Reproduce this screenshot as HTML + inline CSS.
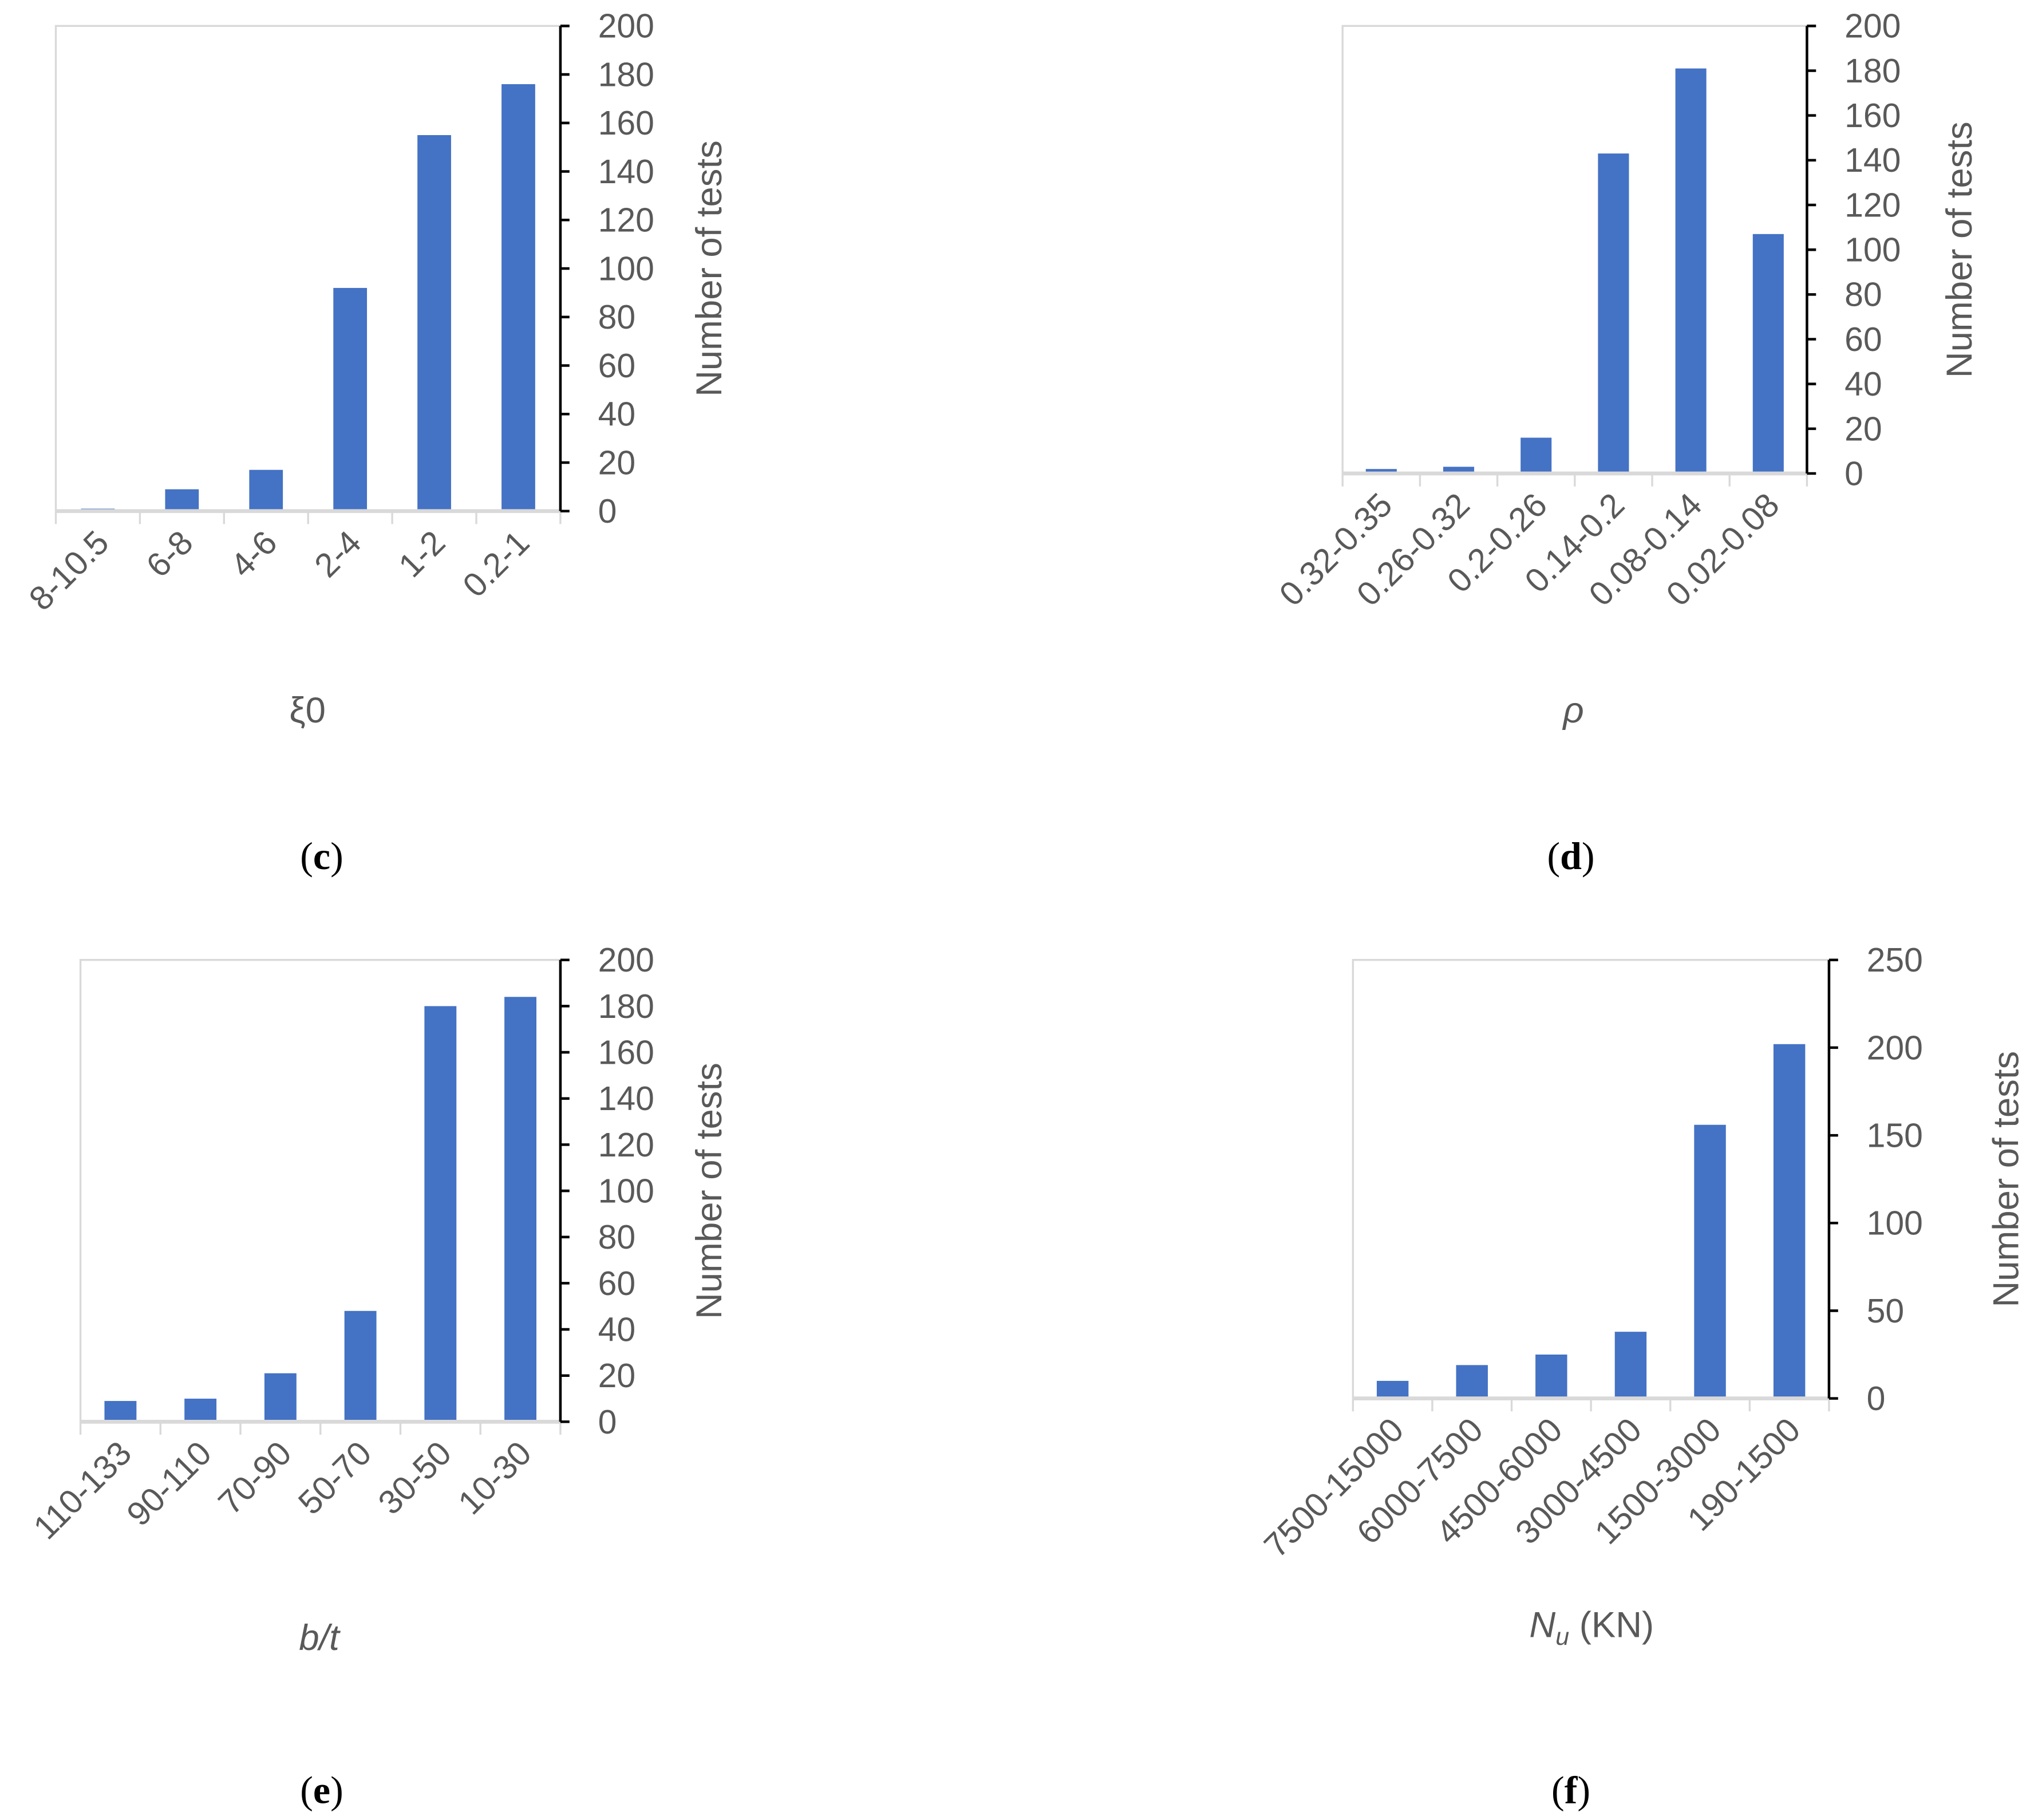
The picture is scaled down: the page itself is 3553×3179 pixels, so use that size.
<!DOCTYPE html>
<html><head><meta charset="utf-8"><style>
html,body{margin:0;padding:0;background:#fff}
svg{display:block}
text{font-family:"Liberation Sans","DejaVu Sans",sans-serif;fill:#595959}
</style></head><body>
<svg id="fig" width="3553" height="3179" viewBox="0 0 1568 1403" xmlns="http://www.w3.org/2000/svg"></svg>
<script>
const catsC=["8-10.5","6-8","4-6","2-4","1-2","0.2-1"];
const valsC=[1,9,17,92,155,176];
const ticksC=[0,20,40,60,80,100,120,140,160,180,200];
const catsD=["0.32-0.35","0.26-0.32","0.2-0.26","0.14-0.2","0.08-0.14","0.02-0.08"];
const valsD=[2,3,16,143,181,107];
const ticksD=[0,20,40,60,80,100,120,140,160,180,200];
const catsE=["110-133","90-110","70-90","50-70","30-50","10-30"];
const valsE=[9,10,21,48,180,184];
const ticksE=[0,20,40,60,80,100,120,140,160,180,200];
const catsF=["7500-15000","6000-7500","4500-6000","3000-4500","1500-3000","190-1500"];
const valsF=[10,19,25,38,156,202];
const ticksF=[0,50,100,150,200,250];

const NS="http://www.w3.org/2000/svg";
const svg=document.getElementById('fig');
function mk(tag,attrs,parent){const e=document.createElementNS(NS,tag);for(const k in attrs)e.setAttribute(k,attrs[k]);(parent||svg).appendChild(e);return e;}

function chart(id,cats,vals,ticks,L,T,R,B,xlabel,letter,ytx){
  const g=mk('g',{});
  
  
  const maxT=ticks[ticks.length-1];
  const y=v=>B-(v/maxT)*(B-T);
  const bw=(R-L)/cats.length;
  const x=i=>L+bw*(i+0.5);
  const frame=mk('path',{d:`M${L},${B} L${L},${T} L${R},${T}`,fill:'none',stroke:'#d9d9d9','stroke-width':1.5},g);
  
  
  vals.forEach((v,i)=>{
    const r=mk('rect',{x:x(i)-bw*0.2,y:y(v),width:bw*0.4,height:B-y(v),fill:'#4472C4'},g);
    
    
  });
  const xa=mk('line',{x1:L,y1:B,x2:R,y2:B,stroke:'#d9d9d9','stroke-width':3},g);
  
  
  for(let i=0;i<=cats.length;i++){
    const t=mk('line',{x1:L+bw*i,y1:B,x2:L+bw*i,y2:B+10,stroke:'#d9d9d9','stroke-width':1.5},g);
    
    
  }
  const ya=mk('line',{x1:R,y1:T,x2:R,y2:B,stroke:'#000','stroke-width':2},g);
  
  
  ticks.forEach(t=>{
    const tm=mk('line',{x1:R,y1:y(t),x2:R+7,y2:y(t),stroke:'#000','stroke-width':2},g);
    
    
    const tl=mk('text',{x:R+29,y:y(t)+9,'font-size':26},g);
    tl.textContent=t;
    
    
  });
  cats.forEach((c,i)=>{
    const cx=x(i)+10, cy=B+26;
    const tl=mk('text',{x:cx,y:cy,'font-size':26,'text-anchor':'end',transform:`rotate(-45 ${cx} ${cy})`},g);
    tl.textContent=c;
    
    
  });
  const yt=mk('text',{x:ytx,y:(T+B)/2,'font-size':28,'text-anchor':'middle',transform:`rotate(-90 ${ytx} ${(T+B)/2})`},g);
  yt.textContent='Number of tests';
  
  
  const xt=mk('text',{x:xlabel[1],y:xlabel[2],'font-size':28,'text-anchor':'middle'},g);
  xt.innerHTML=xlabel[0];
  
  
  const lt=mk('text',{x:letter[1],y:letter[2],'font-size':30,'text-anchor':'middle',style:'font-family:"Liberation Serif",serif;fill:#000'},g);
  lt.innerHTML='(<tspan font-weight="bold">'+letter[0]+'</tspan>)';
  
  
}
chart('c',catsC,valsC,ticksC,43,20,432,394,['ξ0',237,557],['c',248,670],556);
chart('d',catsD,valsD,ticksD,1035,20,1393,365,['<tspan font-style="italic">ρ</tspan>',1213,557],['d',1211,670],1520);
chart('e',catsE,valsE,ticksE,62,740,432,1096,['<tspan font-style="italic">b/t</tspan>',246,1272],['e',248,1390],556);
chart('f',catsF,valsF,ticksF,1043,740,1410,1078,['<tspan font-style="italic">N</tspan><tspan font-style="italic" font-size="19" dy="6">u</tspan><tspan dy="-6"> (KN)</tspan>',1227,1262],['f',1211,1390],1556);
</script>
</body></html>
